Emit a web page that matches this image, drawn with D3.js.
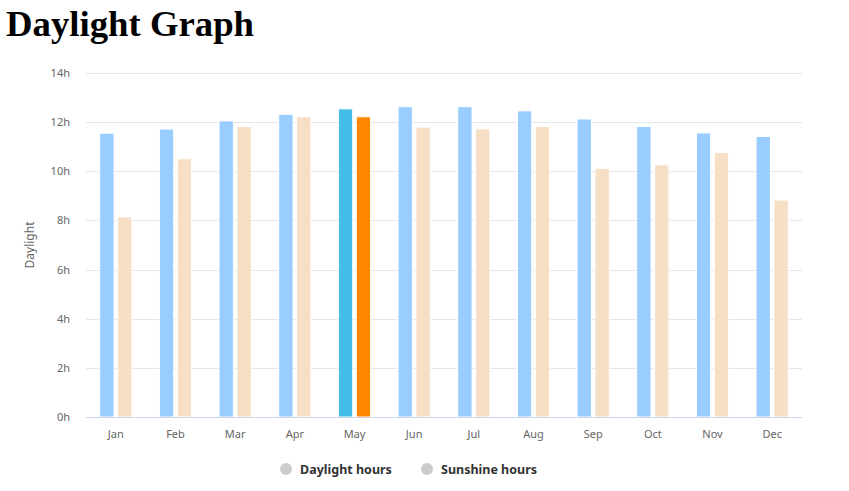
<!DOCTYPE html>
<html><head><meta charset="utf-8">
<script src="https://cdn.jsdelivr.net/npm/d3@7"></script>
<style>
html,body{margin:0;padding:0;background:#fff;}
svg{display:block;}
</style></head>
<body>
<svg id="chart" width="849" height="491"></svg>
<script>
const months = ["Jan","Feb","Mar","Apr","May","Jun","Jul","Aug","Sep","Oct","Nov","Dec"];
const daylight = [11.55,11.72,12.05,12.32,12.54,12.63,12.63,12.46,12.13,11.82,11.56,11.42];
const sunshine = [8.14,10.51,11.82,12.22,12.22,11.8,11.73,11.82,10.12,10.26,10.76,8.83];
const seriesNames = ["Daylight hours","Sunshine hours"];
const yTicks = [0,2,4,6,8,10,12,14];
const highlightMonth = "May";

const colors = {daylight:"#99ccff", sunshine:"#f6dfc4", daylightHi:"#45bde9", sunshineHi:"#ff8800"};

const svg = d3.select("#chart");
const plotLeft = 86, plotRight = 802, plotTop = 73, plotBottom = 417;

svg.append("text").attr("x",6).attr("y",36)
  .attr("font-family","'Liberation Serif','DejaVu Serif',serif")
  .attr("font-weight","bold").attr("font-size",35).attr("fill","#000")
  .attr("textLength",248).attr("lengthAdjust","spacingAndGlyphs")
  .text("Daylight Graph");

const x = d3.scaleBand().domain(months).range([plotLeft,plotRight]).paddingInner(0).paddingOuter(0);
const y = d3.scaleLinear().domain([0,14]).range([plotBottom,plotTop]);

// grid
svg.append("g").selectAll("line").data(yTicks.filter(d=>d>0)).join("line")
  .attr("x1",plotLeft).attr("x2",plotRight).attr("y1",d=>Math.round(y(d))+0.5).attr("y2",d=>Math.round(y(d))+0.5)
  .attr("stroke","#e6e6e6").attr("stroke-width",1);

// y axis labels
const yAxis = d3.axisLeft(y).tickValues(yTicks).tickFormat(d=>d+"h").tickSize(0).tickPadding(0);
const gy = svg.append("g").attr("transform",`translate(${plotLeft-16},0)`).call(yAxis);
gy.select(".domain").remove();
gy.selectAll("text").attr("font-family","'Noto Sans',sans-serif").attr("font-size",11).attr("fill","#666").attr("dy","0.32em");

// y title
svg.append("text").attr("transform",`translate(34,${(plotTop+plotBottom)/2}) rotate(-90)`)
  .attr("text-anchor","middle").attr("font-family","'Noto Sans',sans-serif").attr("font-size",12).attr("fill","#666")
  .text("Daylight");

// bars
const groupPad = x.bandwidth()*0.2;
const seriesW = (x.bandwidth()-2*groupPad)/2;
const barW = seriesW*0.8;
const data = [];
months.forEach((m,i)=>{
  data.push({m, s:0, v:daylight[i]});
  data.push({m, s:1, v:sunshine[i]});
});
svg.append("g").selectAll("rect").data(data).join("rect")
  .attr("x",d=>x(d.m)+groupPad+d.s*seriesW+seriesW*0.1)
  .attr("width",barW)
  .attr("y",d=>y(d.v))
  .attr("height",d=>plotBottom-y(d.v))
  .attr("fill",d=>d.m===highlightMonth ? (d.s?colors.sunshineHi:colors.daylightHi) : (d.s?colors.sunshine:colors.daylight))
  .attr("stroke","#fff").attr("stroke-width",1);

// x axis
const xAxis = d3.axisBottom(x).tickSize(0).tickPadding(0);
const gx = svg.append("g").attr("transform",`translate(0,${plotBottom})`).call(xAxis);
gx.select(".domain").attr("stroke","#ccd6eb").attr("d",`M${plotLeft},0.5H${plotRight}`);
gx.selectAll("text").attr("font-family","'Noto Sans',sans-serif").attr("font-size",11).attr("fill","#666").attr("y",21).attr("dy","0");

// legend
const legX = [286, 427];
const leg = svg.append("g").selectAll("g").data(seriesNames).join("g")
  .attr("transform",(d,i)=>`translate(${legX[i]},469)`);
leg.append("circle").attr("r",6).attr("fill","#cccccc");
leg.append("text").attr("x",14).attr("y",4.5)
  .attr("font-family","'Noto Sans',sans-serif").attr("font-size",12.5).attr("font-weight","bold").attr("fill","#333")
  .text(d=>d);
</script>
</body></html>
